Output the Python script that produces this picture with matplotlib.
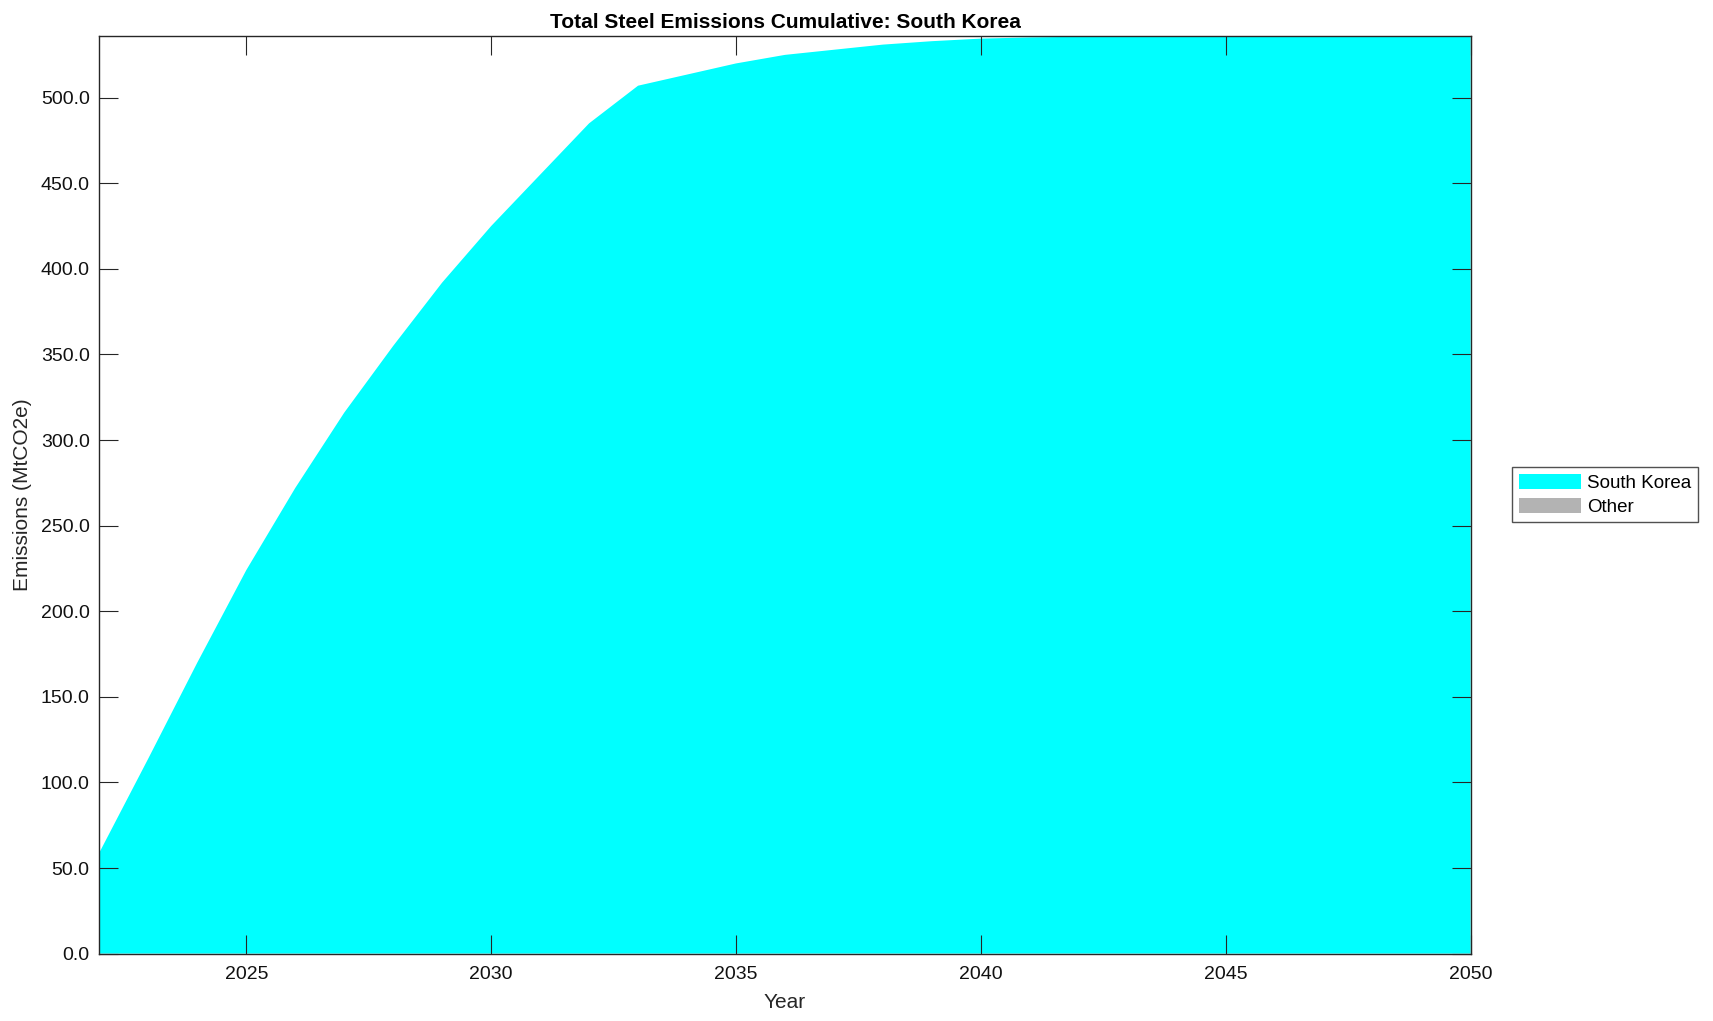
import matplotlib.pyplot as plt
from matplotlib.ticker import FormatStrFormatter

plt.rcParams['font.family'] = ['Liberation Sans', 'DejaVu Sans']

# cumulative emissions (MtCO2e)
years = list(range(2022, 2051))
south_korea = [59, 114, 170, 224, 272, 316, 355, 392, 425, 455, 485, 507,
               513.5, 520, 525, 528, 531, 533, 534.5, 535.2, 535.6, 535.8,
               536, 536, 536, 536, 536, 536, 536]
other = [0] * len(years)

fig = plt.figure(figsize=(17.13, 10.21), dpi=100)
ax = fig.add_axes([0.058, 0.066, 0.8005, 0.8987])

ax.stackplot(years, south_korea, other, colors=['#00ffff', '#b3b3b3'],
             labels=['South Korea', 'Other'], linewidth=0)

ax.set_xlim(2022, 2050)
ax.set_ylim(0, max(south_korea))
ax.set_xticks(range(2025, 2051, 5))
ax.set_yticks([i * 50 for i in range(11)])
ax.yaxis.set_major_formatter(FormatStrFormatter('%.1f'))
ax.tick_params(direction='in', length=14, width=0.8, top=True, right=True,
               labelsize=14, colors='#262626', labelcolor='#111111', pad=7)
ax.tick_params(axis='x', pad=9)
for s in ax.spines.values():
    s.set_color('#262626')
    s.set_linewidth(1.0)
ax.set_axisbelow(False)

ax.set_title('Total Steel Emissions Cumulative: South Korea', fontsize=15,
             fontweight='bold', pad=6)
ax.set_xlabel('Year', fontsize=15, color='#262626', labelpad=7)
ax.set_ylabel('Emissions (MtCO2e)', fontsize=15, color='#262626', labelpad=6)

leg = ax.legend(loc='center left', bbox_to_anchor=(1.0305, 0.5), fontsize=13.5,
                frameon=True, fancybox=False, edgecolor='#262626',
                borderaxespad=0, handlelength=3.3, handleheight=0.85,
                borderpad=0.35, labelspacing=0.3, handletextpad=0.35)
leg.get_frame().set_linewidth(1.0)

fig.savefig('out.png', dpi=100)
